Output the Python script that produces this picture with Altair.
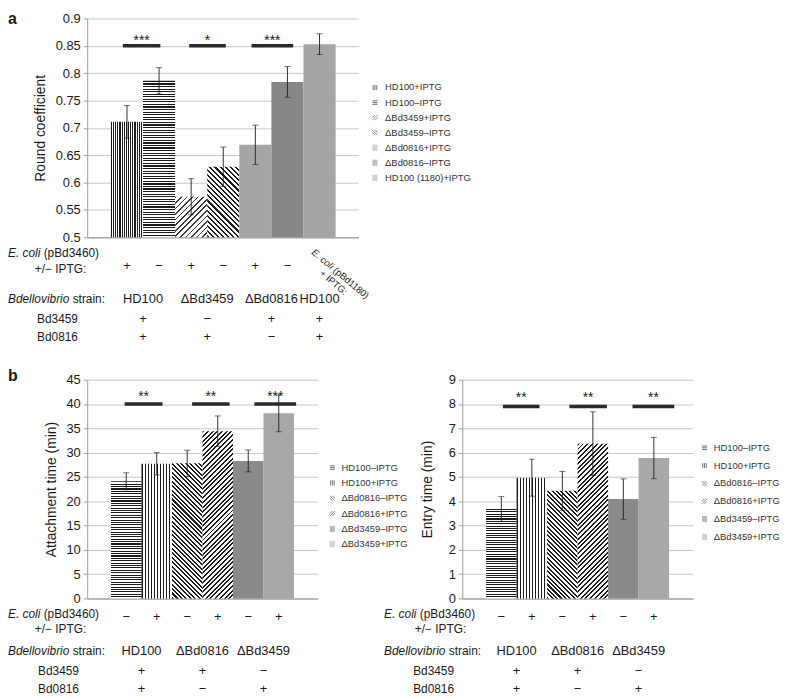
import math
import altair as alt
import pandas as pd

FONT = "Liberation Sans"
INK = "#1c1c1c"
TXT = "#1a1a1a"

# ---------------- panel a data ----------------
a_series = ["HD100+IPTG", "HD100–IPTG", "ΔBd3459+IPTG", "ΔBd3459–IPTG",
            "ΔBd0816+IPTG", "ΔBd0816–IPTG", "HD100 (1180)+IPTG"]
a_mean = [0.711, 0.786, 0.574, 0.629, 0.669, 0.784, 0.853]
a_err = [0.030, 0.024, 0.033, 0.036, 0.036, 0.028, 0.019]
a_iptg = ["+", "−", "+", "−", "+", "−", ""]
a_strain = ["HD100", "ΔBd3459", "ΔBd0816", "HD100"]
a_strain_bars = [2, 2, 2, 1]
a_bd3459 = ["+", "−", "+", "+"]
a_bd0816 = ["+", "+", "−", "+"]
a_sig_label = ["***", "*", "***"]
a_sig_start = [0.37, 2.44, 4.38]
a_sig_end = [1.54, 3.58, 5.68]
a_yticks = [0.5, 0.55, 0.6, 0.65, 0.7, 0.75, 0.8, 0.85, 0.9]
a_extra_label = ["E. coli", "(pBd1180)", "+ IPTG:"]

# ---------------- panel b data ----------------
b_series = ["HD100–IPTG", "HD100+IPTG", "ΔBd0816–IPTG", "ΔBd0816+IPTG",
            "ΔBd3459–IPTG", "ΔBd3459+IPTG"]
b_iptg = ["−", "+", "−", "+", "−", "+"]
b_strain = ["HD100", "ΔBd0816", "ΔBd3459"]
b_strain_bars = [2, 2, 2]
b_bd3459 = ["+", "+", "−"]
b_bd0816 = ["+", "−", "+"]

att_mean = [24.1, 27.7, 27.8, 34.4, 28.3, 38.1]
att_err = [1.75, 2.3, 2.7, 3.15, 2.25, 3.8]
att_sig_label = ["**", "**", "***"]
att_sig_start = [0.45, 2.66, 4.70]
att_sig_end = [1.69, 3.89, 6.07]
att_yticks = [0, 5, 10, 15, 20, 25, 30, 35, 40, 45]

entry_mean = [3.68, 4.97, 4.43, 6.37, 4.09, 5.78]
entry_err = [0.51, 0.76, 0.80, 1.31, 0.83, 0.85]
entry_sig_label = ["**", "**", "**"]
entry_sig_start = [0.55, 2.73, 4.80]
entry_sig_end = [1.75, 3.96, 6.17]
entry_yticks = [0, 1, 2, 3, 4, 5, 6, 7, 8, 9]

row_labels = ["E. coli", "(pBd3460)", "+/− IPTG:", "Bdellovibrio", "strain:", "Bd3459", "Bd0816"]

# ---------------- helpers ----------------
CW = {' ': .278, '(': .333, ')': .333, '.': .278, ':': .278, '+': .584, '/': .278,
      '–': .556, '−': .584, 'A': .667, 'B': .667, 'D': .722, 'E': .667, 'G': .778,
      'H': .722, 'I': .278, 'P': .667, 'T': .611, 'a': .556, 'b': .556, 'c': .5,
      'd': .556, 'e': .556, 'i': .222, 'l': .222, 'n': .556, 'o': .556, 'p': .556,
      'r': .333, 's': .5, 't': .278, 'v': .5, 'Δ': .668}


def tw(s, size):
    return size * sum(CW.get(c, 0.556) for c in s)


def stripes(kind, period, duty, w, h, ink=INK, paper="#ffffff"):
    if kind == "v":
        n = max(1, round(w / period))
        g = dict(x1=0, y1=0, x2=1, y2=0)
    elif kind == "h":
        n = max(1, round(h / period))
        g = dict(x1=0, y1=0, x2=0, y2=1)
    else:
        k = (w + h) / (w * w + h * h)
        n = max(1, round((w + h) / (period * math.sqrt(2))))
        if kind == "/":
            g = dict(x1=0, y1=0, x2=k * w, y2=k * h)
        else:
            g = dict(x1=0, y1=1, x2=k * w, y2=1 - k * h)
    stops = []
    for j in range(n):
        a, b, c = j / n, (j + duty) / n, (j + 1) / n
        stops += [alt.GradientStop(color=ink, offset=round(a, 5)),
                  alt.GradientStop(color=ink, offset=round(b, 5)),
                  alt.GradientStop(color=paper, offset=round(b, 5)),
                  alt.GradientStop(color=paper, offset=round(c, 5))]
    return alt.LinearGradient(gradient="linear", stops=stops,
                              **{key: round(v, 5) for key, v in g.items()})


P_V = "M-0.7,-1V1M0,-1V1M0.7,-1V1"
P_H = "M-1,-0.7H1M-1,0H1M-1,0.7H1"
P_F = "M-1,1L1,-1M-1,0L0,-1M0,1L1,0"
P_B = "M-1,-1L1,1M-1,0L0,1M0,-1L1,0"
P_S = "M-1,-1H1M-1,-0.6H1M-1,-0.2H1M-1,0.2H1M-1,0.6H1M-1,1H1"


def text_layer(df, x, y, field, size=12, style="normal", align="center", weight="normal", **kw):
    return alt.Chart(df).mark_text(font=FONT, fontSize=size, fontStyle=style, fontWeight=weight,
                                   align=align, baseline=kw.pop("baseline", "middle"),
                                   color=TXT, **kw).encode(x=x, y=y, text=f"{field}:N")


def build_panel(P):
    ser = P["series"]
    n = len(ser)
    W, H = P["width"], P["height"]
    x0, x1 = P["xdom"]
    y0, y1 = P["ydom"]
    bar_w = W / (x1 - x0)
    xs = alt.Scale(domain=[x0, x1], nice=False, zero=False)
    ys = alt.Scale(domain=[y0, y1], nice=False, zero=False)
    xaxis = alt.Axis(title=None, labels=False, ticks=False, grid=False,
                     domainColor="#a9a9a9", domainWidth=1.5)
    yaxis = alt.Axis(values=P["yticks"], format=P["yfmt"], title=P["ytitle"], grid=True,
                     gridColor="#c6c6c6", gridWidth=1, domainColor="#9c9c9c",
                     tickColor="#9c9c9c", tickSize=4, labelPadding=3, labelFont=FONT,
                     labelFontSize=13, labelColor=TXT, titleFont=FONT, titleFontSize=14,
                     titleFontWeight="normal", titleColor=TXT, titlePadding=P["title_pad"])

    def X(f):
        return alt.X(f, type="quantitative", scale=xs, axis=xaxis)

    def Y(f):
        return alt.Y(f, type="quantitative", scale=ys, axis=yaxis)

    df = pd.DataFrame({"series": ser, "mean": P["mean"], "err": P["err"]})
    df["x0"] = list(range(n))
    df["x1"] = df["x0"] + 1
    df["center"] = df["x0"] + 0.5
    df["lo"] = df["mean"] - df["err"]
    df["hi"] = df["mean"] + df["err"]
    df["base"] = y0
    df["mid"] = (df["mean"] + y0) / 2

    leg = alt.Legend(title=None, orient="none", legendX=P["leg_x"], legendY=P["leg_y"],
                     labelFont=FONT, labelFontSize=9.5, labelColor="#333333", symbolSize=26,
                     symbolStrokeWidth=0.9, rowPadding=P["leg_row"], labelOffset=P["leg_off"],
                     padding=0, labelLimit=200)
    layers = [alt.Chart(df).mark_point(filled=False, strokeWidth=0.9, size=20).encode(
        x=X("center"), y=Y("mid"),
        color=alt.Color("series:N", scale=alt.Scale(domain=ser, range=P["sym_colors"]), legend=leg),
        shape=alt.Shape("series:N", scale=alt.Scale(domain=ser, range=P["sym_paths"]), legend=leg))]

    for s, m, pat in zip(ser, P["mean"], P["patterns"]):
        h = (m - y0) / (y1 - y0) * H
        if pat[0] == "solid":
            fill = pat[1]
        else:
            fill = stripes(pat[0], pat[1], pat[2], bar_w, h, pat[3] if len(pat) > 3 else INK)
        layers.append(alt.Chart(df).transform_filter(alt.datum.series == s).mark_bar(fill=fill).encode(
            x=X("x0"), x2=alt.X2("x1"), y=Y("mean"), y2=alt.Y2("base")))

    layers.append(alt.Chart(df).mark_rule(color=INK, strokeWidth=0.9).encode(
        x=X("center"), y=Y("lo"), y2=alt.Y2("hi")))
    for f in ("lo", "hi"):
        layers.append(alt.Chart(df).mark_tick(orient="horizontal", size=6, thickness=0.9, color=INK).encode(
            x=X("center"), y=Y(f)))

    sig = pd.DataFrame({"label": P["sig_label"], "start": P["sig_start"], "end": P["sig_end"]})
    sig["y"] = P["sig_y"]
    sig["mid"] = (sig["start"] + sig["end"]) / 2
    layers.append(alt.Chart(sig).mark_rule(color="#2a2a2a", strokeWidth=3.5).encode(
        x=X("start"), x2=alt.X2("end"), y=Y("y")))
    layers.append(alt.Chart(sig).mark_text(font=FONT, fontSize=14, color=TXT, baseline="alphabetic",
                                           dy=P["star_dy"]).encode(x=X("mid"), y=Y("y"), text="label:N"))

    R = P["rows"]
    signs = df.assign(sign=P["iptg"])
    signs = signs[signs["sign"] != ""]
    layers.append(text_layer(signs, X("center"), alt.value(R["signs"]), "sign", size=13))
    grp = pd.DataFrame({"strain": P["strain"], "bd3459": P["bd3459"], "bd0816": P["bd0816"],
                        "nb": P["strain_bars"]})
    grp["start"] = grp["nb"].cumsum() - grp["nb"]
    grp["gc"] = grp["start"] + grp["nb"] / 2
    for field in ("strain", "bd3459", "bd0816"):
        layers.append(text_layer(grp, X("gc"), alt.value(R[field]), field, size=13))

    def lab(i, xpx, ypx, **kw):
        return text_layer(pd.DataFrame({"t": [row_labels[i]]}), alt.value(xpx), alt.value(ypx), "t", **kw)

    lx = R["left_x"]
    layers.append(lab(0, lx, R["line1"], style="italic", align="left"))
    layers.append(lab(1, lx + tw(row_labels[0] + " ", 12), R["line1"], align="left"))
    layers.append(lab(2, R["line2_right"], R["line2"], align="right"))
    layers.append(lab(3, lx, R["strain"], style="italic", align="left"))
    layers.append(lab(4, lx + tw(row_labels[3] + " ", 12), R["strain"], align="left"))
    layers.append(lab(5, R["bd_center"], R["bd3459"]))
    layers.append(lab(6, R["bd_center"], R["bd0816"]))

    if P.get("letter"):
        layers.append(text_layer(pd.DataFrame({"t": [P["letter"]]}), alt.value(lx), alt.value(P["letter_y"]),
                                 "t", size=16, weight="bold", align="left", baseline="alphabetic"))
    if P.get("extra"):
        layers += P["extra"](X, Y)
    return alt.layer(*layers).properties(width=W, height=H)


def a_extra(X, Y):
    fs = 9.5
    ang = 40
    d = pd.DataFrame({"t": a_extra_label, "x": [6.29] * 3})
    w_it = tw(a_extra_label[0] + " ", fs)
    w1 = tw(a_extra_label[0] + " " + a_extra_label[1], fs)
    w2 = tw(a_extra_label[2], fs)
    out = []
    specs = [(0, 0, 0, "italic"), (1, w_it, 0, "normal"), (2, (w1 - w2) / 2, 11, "normal")]
    for i, dx, dy, st in specs:
        out.append(alt.Chart(d.iloc[[i]]).mark_text(font=FONT, fontSize=fs, fontStyle=st, angle=ang,
                                                    align="left", baseline="middle", dx=dx, dy=dy,
                                                    color=TXT).encode(x=X("x"), y=alt.value(235), text="t:N"))
    return out


A = dict(series=a_series, mean=a_mean, err=a_err, width=274, height=221,
         xdom=(-0.74, 7.71), ydom=(0.5, 0.9), yticks=a_yticks, yfmt=".2~f",
         ytitle="Round coefficient", title_pad=8,
         patterns=[("v", 2.2, 0.5), ("h", 2.6, 0.45), ("/", 4.0, 0.3, "#3a3a3a"), ("\\", 3.6, 0.42),
                   ("solid", "#a5a5a5"), ("solid", "#878787"), ("solid", "#a5a5a5")],
         sym_colors=["#222222", "#222222", "#555555", "#333333", "#a5a5a5", "#878787", "#a5a5a5"],
         sym_paths=[P_V, P_H, P_F, P_B, P_S, P_S, P_S],
         leg_x=286, leg_y=65, leg_row=4.2, leg_off=5.5,
         sig_label=a_sig_label, sig_start=a_sig_start, sig_end=a_sig_end, sig_y=0.85, star_dy=-1,
         iptg=a_iptg, strain=a_strain, strain_bars=a_strain_bars, bd3459=a_bd3459, bd0816=a_bd0816,
         rows=dict(line1=237, line2=253, signs=250, strain=283, bd3459=304, bd0816=322,
                   left_x=-80, line2_right=-1, bd_center=-30),
         letter="a", letter_y=6, extra=a_extra)

b_patterns = [("h", 2.4, 0.45), ("v", 3.0, 0.42), ("\\", 3.2, 0.45), ("/", 3.4, 0.42),
              ("solid", "#8a8a8a"), ("solid", "#a8a8a8")]
b_sym_colors = ["#222222", "#222222", "#333333", "#333333", "#8a8a8a", "#a8a8a8"]
b_sym_paths = [P_H, P_V, P_B, P_F, P_S, P_S]

BL = dict(series=b_series, mean=att_mean, err=att_err, width=233, height=221,
          xdom=(-0.78, 6.78), ydom=(0, 45), yticks=att_yticks, yfmt="d",
          ytitle="Attachment time (min)", title_pad=8,
          patterns=b_patterns, sym_colors=b_sym_colors, sym_paths=b_sym_paths,
          leg_x=243, leg_y=84, leg_row=4.5, leg_off=4.5,
          sig_label=att_sig_label, sig_start=att_sig_start, sig_end=att_sig_end, sig_y=40, star_dy=-3,
          iptg=b_iptg, strain=b_strain, strain_bars=b_strain_bars, bd3459=b_bd3459, bd0816=b_bd0816,
          rows=dict(line1=237, line2=252, signs=240, strain=274, bd3459=294, bd0816=313,
                    left_x=-80, line2_right=-1, bd_center=-29),
          letter="b", letter_y=1)

BR = dict(series=b_series, mean=entry_mean, err=entry_err, width=233, height=221,
          xdom=(-0.78, 6.78), ydom=(0, 9), yticks=entry_yticks, yfmt="d",
          ytitle="Entry time (min)", title_pad=14,
          patterns=b_patterns, sym_colors=b_sym_colors, sym_paths=b_sym_paths,
          leg_x=240, leg_y=64, leg_row=7, leg_off=4.5,
          sig_label=entry_sig_label, sig_start=entry_sig_start, sig_end=entry_sig_end, sig_y=7.9, star_dy=-5,
          iptg=b_iptg, strain=b_strain, strain_bars=b_strain_bars, bd3459=b_bd3459, bd0816=b_bd0816,
          rows=dict(line1=237, line2=252, signs=240, strain=274, bd3459=294, bd0816=313,
                    left_x=-79, line2_right=4, bd_center=-29))

panel_a = build_panel(A)
panel_bl = build_panel(BL)
panel_br = build_panel(BR)

row_b = alt.hconcat(panel_bl, panel_br, spacing=146, bounds="flush").resolve_scale(
    color="independent", shape="independent")
chart = alt.vconcat(panel_a, row_b, spacing=144, bounds="flush").resolve_scale(
    color="independent", shape="independent").properties(padding=0).configure_view(strokeWidth=0)

chart.save("out.html", embed_options={"renderer": "svg", "actions": False})
